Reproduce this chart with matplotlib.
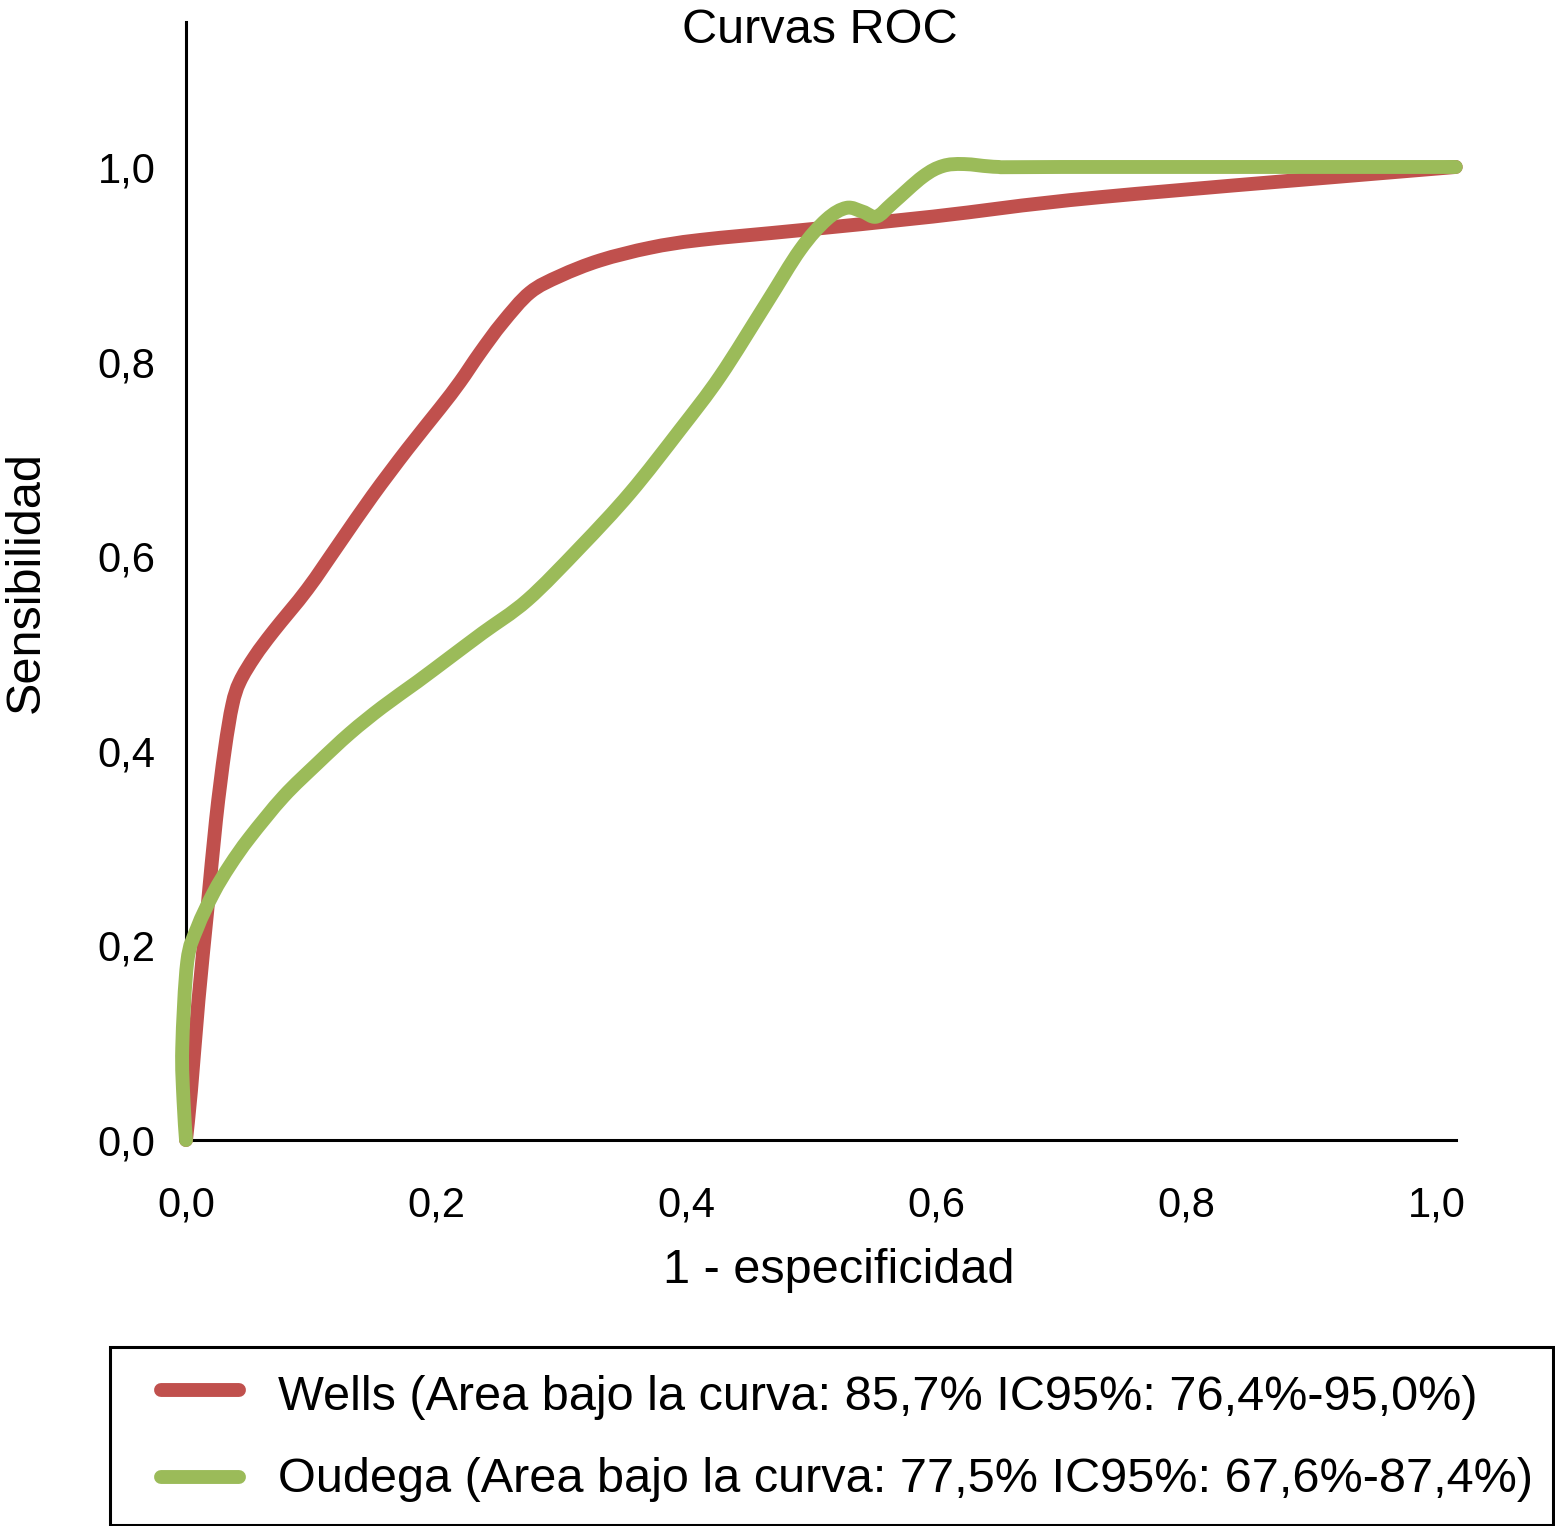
import matplotlib
matplotlib.use("Agg")
import matplotlib.pyplot as plt
from matplotlib.ticker import FuncFormatter
from matplotlib.lines import Line2D
from matplotlib.patches import Rectangle, PathPatch
from matplotlib.path import Path

# ---- data ----
wells_x = [0.0, 0.004, 0.010, 0.017, 0.024, 0.031, 0.037, 0.043, 0.055, 0.070,
           0.097, 0.123, 0.149, 0.177, 0.203, 0.219, 0.235, 0.253, 0.275, 0.299,
           0.331, 0.371, 0.411, 0.491, 0.597, 0.731, 1.015]
wells_y = [0.0, 0.051, 0.144, 0.236, 0.329, 0.401, 0.447, 0.471, 0.497, 0.523,
           0.566, 0.614, 0.662, 0.710, 0.752, 0.779, 0.809, 0.840, 0.871, 0.888,
           0.904, 0.917, 0.925, 0.935, 0.949, 0.969, 1.0]

oudega_x = [0.0, -0.002, -0.003, 0.001, 0.009, 0.022, 0.035, 0.051, 0.078, 0.105,
            0.131, 0.157, 0.185, 0.211, 0.237, 0.273, 0.315, 0.355, 0.395, 0.427,
            0.464, 0.491, 0.512, 0.528, 0.541, 0.552, 0.565, 0.589, 0.605, 0.622,
            0.650, 0.700, 1.015]
oudega_y = [0.0, 0.041, 0.095, 0.183, 0.218, 0.254, 0.282, 0.311, 0.353, 0.387,
            0.418, 0.445, 0.471, 0.496, 0.521, 0.555, 0.609, 0.665, 0.730, 0.785,
            0.860, 0.915, 0.946, 0.958, 0.954, 0.949, 0.963, 0.990, 1.001, 1.003,
            1.0, 1.0, 1.0]

tick_values = [0.0, 0.2, 0.4, 0.6, 0.8, 1.0]
labels = ["Wells (Area bajo la curva: 85,7% IC95%: 76,4%-95,0%)",
          "Oudega (Area bajo la curva: 77,5% IC95%: 67,6%-87,4%)"]
title = "Curvas ROC"
xlabel = "1 - especificidad"
ylabel = "Sensibilidad"
colors = ["#C0504D", "#9BBB59"]

# ---- figure ----
plt.rcParams['font.family'] = ['Liberation Sans', 'DejaVu Sans']
W, H = 1555, 1526
fig = plt.figure(figsize=(W / 100, H / 100), dpi=100)

def fx(px):
    return px / W

def fy(py):
    return 1 - py / H

ax = fig.add_axes([fx(186), fy(1140), fx(1456) - fx(186), fy(22) - fy(1140)])
ax.set_xlim(0, 1.0152)
ax.set_ylim(0, 1.149)

lw = 10


def smooth_path(xs, ys):
    """Smoothed line through the given points (Catmull-Rom as cubic Bezier)."""
    pts = list(zip(xs, ys))
    n = len(pts)
    verts = [pts[0]]
    codes = [Path.MOVETO]
    for i in range(n - 1):
        p0 = pts[i - 1] if i > 0 else pts[i]
        p1 = pts[i]
        p2 = pts[i + 1]
        p3 = pts[i + 2] if i + 2 < n else pts[i + 1]
        c1 = (p1[0] + (p2[0] - p0[0]) / 6, p1[1] + (p2[1] - p0[1]) / 6)
        c2 = (p2[0] - (p3[0] - p1[0]) / 6, p2[1] - (p3[1] - p1[1]) / 6)
        verts += [c1, c2, p2]
        codes += [Path.CURVE4] * 3
    return Path(verts, codes)


for xs, ys, c, z in [(wells_x, wells_y, colors[0], 3), (oudega_x, oudega_y, colors[1], 4)]:
    patch = PathPatch(smooth_path(xs, ys), facecolor='none', edgecolor=c, lw=lw,
                      capstyle='round', joinstyle='round', transform=ax.transData,
                      clip_on=False, zorder=z)
    ax.add_patch(patch)

fmt = FuncFormatter(lambda v, p: f"{v:.1f}".replace(".", ","))
ax.set_xticks(tick_values)
ax.set_yticks(tick_values)
ax.xaxis.set_major_formatter(fmt)
ax.yaxis.set_major_formatter(fmt)
ax.tick_params(axis='both', length=0, labelsize=30)
ax.tick_params(axis='x', pad=33)
ax.tick_params(axis='y', pad=22)
for s in ['top', 'right']:
    ax.spines[s].set_visible(False)
for s in ['left', 'bottom']:
    ax.spines[s].set_linewidth(2.2)
    ax.spines[s].set_color('black')
    ax.spines[s].set_zorder(2)

fig.text(fx(820), fy(43), title, fontsize=35, ha='center', va='baseline')
fig.text(fx(839), fy(1283), xlabel, fontsize=35, ha='center', va='baseline')
fig.text(fx(26), fy(582), ylabel, fontsize=35, ha='center', va='center', rotation=90)

# ---- legend box ----
fig.add_artist(Rectangle((fx(110), fy(1525)), fx(1553) - fx(110), fy(1347) - fy(1525),
                         transform=fig.transFigure, fill=False, edgecolor='black', lw=2.2))
row_line_y = [1390, 1477]
row_base_y = [1410, 1492]
for c, lab, ly, by in zip(colors, labels, row_line_y, row_base_y):
    fig.add_artist(Line2D([fx(161), fx(239)], [fy(ly), fy(ly)], transform=fig.transFigure,
                          color=c, lw=lw, solid_capstyle='round'))
    fig.text(fx(278), fy(by), lab, fontsize=35, ha='left', va='baseline')

fig.savefig("out.png", dpi=100, facecolor='white')
